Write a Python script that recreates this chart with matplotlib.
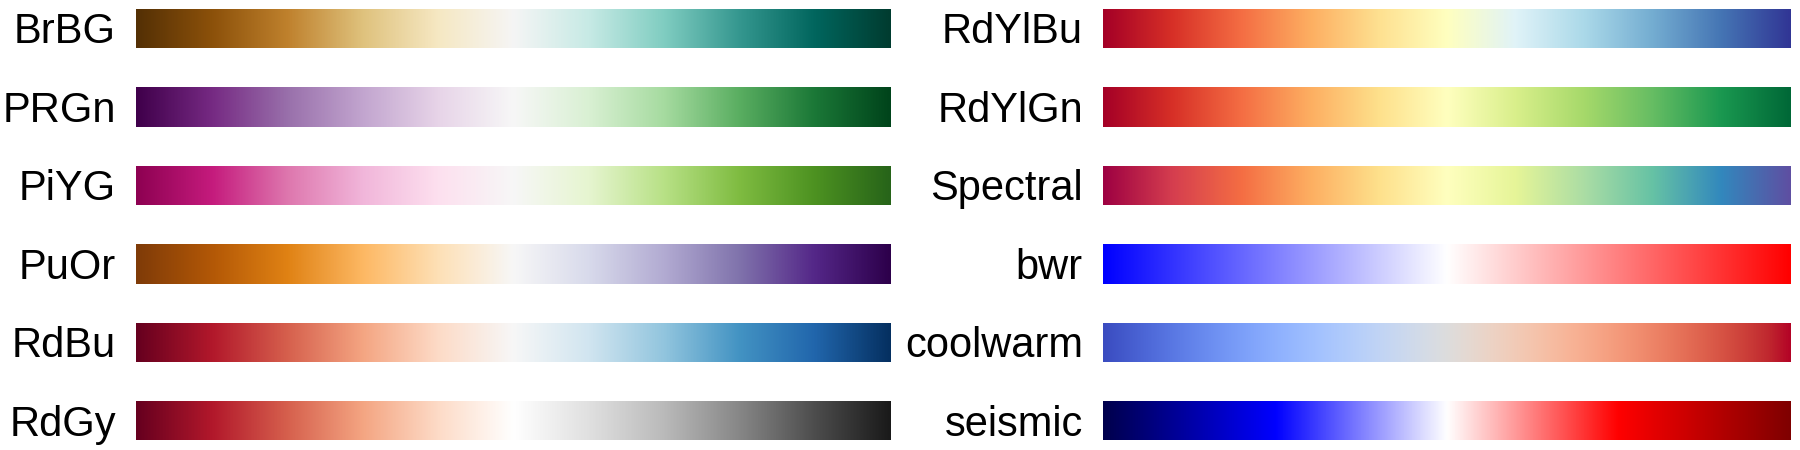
import numpy as np
import matplotlib
matplotlib.use("Agg")
import matplotlib.pyplot as plt

plt.rcParams['font.family'] = ['Liberation Sans', 'DejaVu Sans']

left_cmaps = ['BrBG', 'PRGn', 'PiYG', 'PuOr', 'RdBu', 'RdGy']
right_cmaps = ['RdYlBu', 'RdYlGn', 'Spectral', 'bwr', 'coolwarm', 'seismic']

W, H = 1800, 450
fig = plt.figure(figsize=(18, 4.5), dpi=100)

gradient = np.linspace(0, 1, 256)
gradient = np.vstack((gradient, gradient))

col_x = [(136, 891), (1103, 1790.5)]
top0 = 9.0
pitch = 78.46
bar_h = 39.2

for c, names in enumerate([left_cmaps, right_cmaps]):
    x0, x1 = col_x[c]
    for r, name in enumerate(names):
        top = top0 + r * pitch
        ax = fig.add_axes([x0 / W, 1 - (top + bar_h) / H, (x1 - x0) / W, bar_h / H])
        ax.imshow(gradient, aspect='auto', cmap=plt.get_cmap(name))
        ax.set_axis_off()
        fig.text((x0 - 20) / W, 1 - (top + 34.3) / H, name,
                 va='baseline', ha='right', fontsize=30)

fig.savefig('out.png', dpi=100)
